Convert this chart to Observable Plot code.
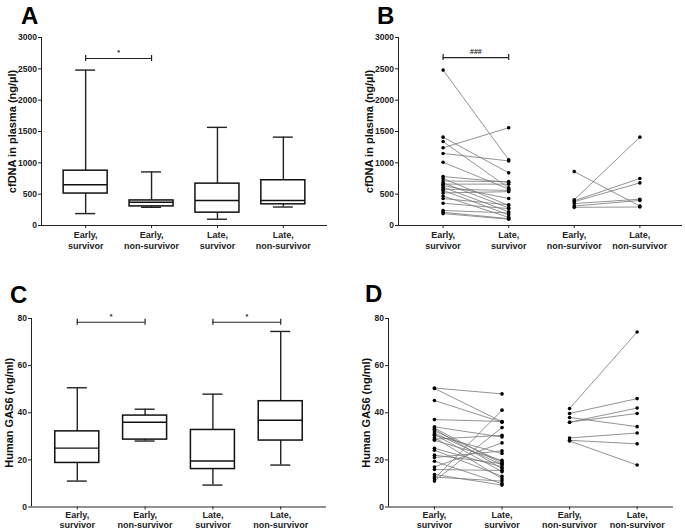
<!DOCTYPE html>
<html><head><meta charset="utf-8">
<script src="https://cdn.jsdelivr.net/npm/d3@7"></script>
<script src="https://cdn.jsdelivr.net/npm/@observablehq/plot@0.6"></script>
<style>
body{margin:0;background:#fff;}
#wrap{position:relative;width:685px;height:530px;overflow:hidden;font-family:"Liberation Sans",Arial,sans-serif;}
.panel{position:absolute;}
.letter{position:absolute;font-size:24px;font-weight:bold;line-height:24px;color:#000;font-family:"Liberation Sans",Arial,sans-serif;}
</style></head><body><div id="wrap"></div>
<script>
// ---------- data ----------
const boxCats = ["Early,\nsurvivor", "Early,\nnon-survivor", "Late,\nsurvivor", "Late,\nnon-survivor"];
const pairCats = ["Early,\nsurvivor", "Late,\nsurvivor", "Early,\nnon-survivor", "Late,\nnon-survivor"];

// Panel A: cfDNA box stats (min, Q1, median, Q3, max)
const aMin = [190, 290, 100, 295];
const aQ1  = [510, 305, 205, 338];
const aMed = [650, 372, 398, 400];
const aQ3  = [875, 400, 668, 722];
const aMax = [2480, 855, 1566, 1410];

// Panel B: paired cfDNA
const bEarlySurv = [2480, 1410, 1340, 1240, 1150, 1010, 780, 750, 710, 680, 660, 640, 610, 580, 560, 520, 470, 430, 355, 240, 210, 190];
const bLateSurv  = [1050, 840, 600, 1560, 1030, 580, 690, 320, 700, 280, 660, 430, 220, 560, 170, 540, 130, 330, 270, 200, 110, 100];
const bEarlyNon  = [860, 410, 395, 380, 350, 310, 290];
const bLateNon   = [310, 1410, 750, 680, 420, 400, 295];

// Panel C: GAS6 box stats
const cMin = [11.0, 28.0, 9.3, 17.8];
const cQ1  = [18.7, 28.6, 16.1, 28.2];
const cMed = [25.0, 36.0, 19.5, 36.8];
const cQ3  = [32.1, 38.8, 32.7, 44.9];
const cMax = [50.6, 41.5, 47.9, 74.5];

// Panel D: paired GAS6
const dEarlySurv = [50.5, 50.3, 45.2, 37.1, 34.0, 33.5, 33.0, 32.3, 31.4, 30.8, 30.4, 29.5, 28.8, 28.3, 24.9, 24.1, 22.0, 21.0, 19.4, 17.0, 15.9, 13.8, 12.7, 12.0, 11.0];
const dLateSurv  = [48.0, 36.2, 36.0, 36.3, 29.7, 18.4, 16.3, 19.2, 17.8, 15.0, 22.7, 12.0, 30.4, 19.8, 17.0, 13.0, 18.4, 23.8, 9.9, 27.2, 15.5, 9.3, 11.0, 41.1, 33.7];
const dEarlyNon  = [41.8, 39.7, 38.0, 36.0, 36.0, 29.3, 28.3, 28.0];
const dLateNon   = [74.3, 46.0, 34.1, 42.0, 39.7, 31.4, 26.8, 17.8];

// significance annotations
const sigA = [{from: 0, to: 1, y: 2665, label: "*"}];
const sigB = [{from: 0, to: 1, y: 2680, label: "###"}];
const sigC = [{from: 0, to: 1, y: 78.4, label: "*"}, {from: 2, to: 3, y: 78.4, label: "*"}];

const cfLabel = "cfDNA in plasma (ng/\u00b5l)";
const gasLabel = "Human GAS6 (ng/ml)";
const cfTicks = [0, 500, 1000, 1500, 2000, 2500, 3000];
const gasTicks = [0, 20, 40, 60, 80];

// ---------- helpers ----------
const FONT = "Liberation Sans, Arial, sans-serif";
const wrap = document.getElementById("wrap");

function baseMarks(cfg) {
  return [
    Plot.ruleX([cfg.xDomain[0]], {stroke: "#222", strokeWidth: 1}),
    Plot.ruleY([cfg.yDomain[0]], {stroke: "#222", strokeWidth: 1}),
    Plot.axisY({ticks: cfg.yTicks, tickSize: 3, tickPadding: 1.5, fontSize: 8.5, fontWeight: "bold", tickFormat: d => String(d), label: null, stroke: "#222"}),
    Plot.axisX({ticks: [0, 1, 2, 3], tickFormat: i => cfg.cats[i], tickSize: 3, tickPadding: cfg.tickPad, fontSize: 9, fontWeight: "bold", lineHeight: cfg.lh, label: null, stroke: "#222"}),
    Plot.text([cfg.yLabel], {frameAnchor: "left", textAnchor: "middle", rotate: -90, dx: cfg.labelDx, fontSize: 11, fontWeight: "bold", fill: "#111"})
  ];
}

function sigMarks(sig) {
  return [
    Plot.ruleY(sig, {x1: "from", x2: "to", y: "y", stroke: "#222", strokeWidth: 1.2}),
    Plot.ruleX(sig, {x: "from", y1: "y", y2: "y", insetTop: -3, insetBottom: -3, stroke: "#222", strokeWidth: 1.2}),
    Plot.ruleX(sig, {x: "to", y1: "y", y2: "y", insetTop: -3, insetBottom: -3, stroke: "#222", strokeWidth: 1.2}),
    Plot.text(sig, {x: d => (d.from + d.to) / 2, y: "y", text: "label", dy: -6, fontSize: 7, fontWeight: "bold", fill: "#222"})
  ];
}

function boxMarks(mins, q1, med, q3, maxs) {
  const rows = mins.map((m, i) => ({i, min: m, q1: q1[i], med: med[i], q3: q3[i], max: maxs[i]}));
  return [
    Plot.ruleX(rows, {x: "i", y1: "min", y2: "max", stroke: "#222", strokeWidth: 1.4}),
    Plot.ruleY(rows, {x1: "i", x2: "i", y: "min", insetLeft: -10, insetRight: -10, stroke: "#222", strokeWidth: 1.4}),
    Plot.ruleY(rows, {x1: "i", x2: "i", y: "max", insetLeft: -10, insetRight: -10, stroke: "#222", strokeWidth: 1.4}),
    Plot.rect(rows, {x1: "i", x2: "i", y1: "q1", y2: "q3", insetLeft: -22, insetRight: -22, fill: "white", stroke: "#111", strokeWidth: 1.5}),
    Plot.ruleY(rows, {x1: "i", x2: "i", y: "med", insetLeft: -22, insetRight: -22, stroke: "#111", strokeWidth: 1.4})
  ];
}

function pairMarks(early, late, xe, xl) {
  const rows = early.map((e, i) => ({e, l: late[i]}));
  const pts = early.map(v => ({x: xe, y: v})).concat(late.map(v => ({x: xl, y: v})));
  return [
    Plot.link(rows, {x1: () => xe, x2: () => xl, y1: "e", y2: "l", stroke: "#777", strokeWidth: 0.8}),
    Plot.dot(pts, {x: "x", y: "y", r: 1.8, fill: "#000", stroke: "none"})
  ];
}

function panel(cfg, extra) {
  const svg = Plot.plot({
    width: cfg.w, height: cfg.h,
    marginLeft: cfg.mL, marginRight: cfg.mR, marginTop: cfg.mT, marginBottom: cfg.mB,
    style: {fontFamily: FONT, background: "transparent", overflow: "visible", color: "#222"},
    x: {type: "linear", domain: cfg.xDomain},
    y: {type: "linear", domain: cfg.yDomain},
    marks: [...baseMarks(cfg), ...extra]
  });
  const div = document.createElement("div");
  div.className = "panel";
  div.style.left = cfg.left + "px";
  div.style.top = cfg.top + "px";
  div.appendChild(svg);
  wrap.appendChild(div);
  const L = document.createElement("div");
  L.className = "letter";
  L.textContent = cfg.letter;
  L.style.left = cfg.lx + "px";
  L.style.top = cfg.ly + "px";
  wrap.appendChild(L);
}

// ---------- panels ----------
panel({left: 0, top: 0, w: 340, h: 265, mL: 41, mR: 13, mT: 37, mB: 40,
  xDomain: [-0.67, 3.67], yDomain: [0, 3000], yTicks: cfTicks, cats: boxCats, tickPad: 2, lh: 1.2,
  yLabel: cfLabel, labelDx: -29, letter: "A", lx: 21, ly: 4},
  [...boxMarks(aMin, aQ1, aMed, aQ3, aMax), ...sigMarks(sigA)]);

panel({left: 340, top: 0, w: 345, h: 265, mL: 58, mR: 3, mT: 37, mB: 40,
  xDomain: [-0.68, 3.65], yDomain: [0, 3000], yTicks: cfTicks, cats: pairCats, tickPad: 2, lh: 1.2,
  yLabel: cfLabel, labelDx: -29, letter: "B", lx: 377, ly: 4},
  [...pairMarks(bEarlySurv, bLateSurv, 0, 1), ...pairMarks(bEarlyNon, bLateNon, 2, 3), ...sigMarks(sigB)]);

panel({left: 0, top: 270, w: 340, h: 260, mL: 31, mR: 14, mT: 48, mB: 23.5,
  xDomain: [-0.675, 3.675], yDomain: [0, 80], yTicks: gasTicks, cats: boxCats, tickPad: 1, lh: 1.1,
  yLabel: gasLabel, labelDx: -22, letter: "C", lx: 10, ly: 283},
  [...boxMarks(cMin, cQ1, cMed, cQ3, cMax), ...sigMarks(sigC)]);

panel({left: 340, top: 270, w: 345, h: 260, mL: 48, mR: 12, mT: 48, mB: 23.5,
  xDomain: [-0.68, 3.538], yDomain: [0, 80], yTicks: gasTicks, cats: pairCats, tickPad: 1, lh: 1.1,
  yLabel: gasLabel, labelDx: -22, letter: "D", lx: 365, ly: 282},
  [...pairMarks(dEarlySurv, dLateSurv, 0, 1), ...pairMarks(dEarlyNon, dLateNon, 2, 3)]);
</script></body></html>
